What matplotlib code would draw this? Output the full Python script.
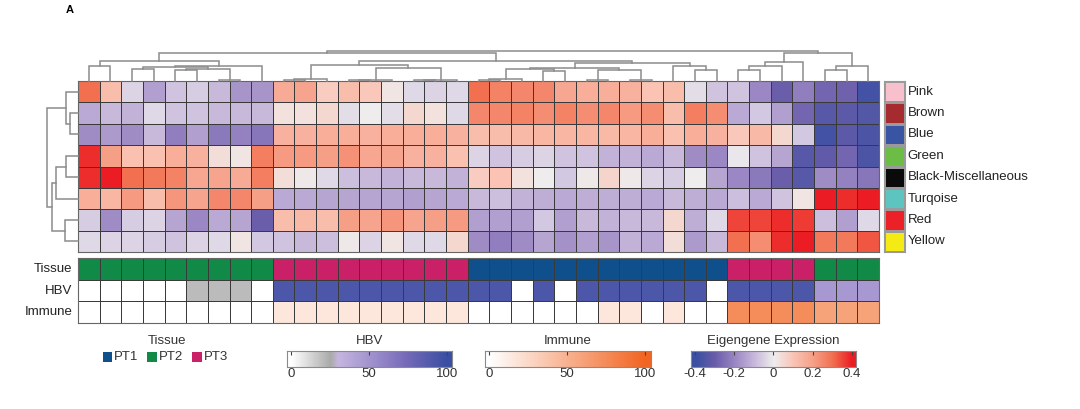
import numpy as np
import matplotlib
matplotlib.use("Agg")
import matplotlib.pyplot as plt
from matplotlib.colors import LinearSegmentedColormap, ListedColormap
from matplotlib.patches import Rectangle

plt.rcParams['font.family'] = ['Liberation Sans', 'DejaVu Sans']

# ---------------- data ----------------
modules = ["Pink", "Brown", "Blue", "Green", "Black-Miscellaneous", "Turqoise", "Red", "Yellow"]
module_colors = ["#F8BFCC", "#A52B2E", "#3A54A4", "#6CBD45", "#0A0A0A", "#5EC4C0", "#EC2027", "#F5EB14"]

eig_pink = [0.30, 0.12, -0.05, -0.15, -0.08, -0.06, -0.10, -0.17, -0.17,
            0.17, 0.19, 0.08, 0.12, 0.09, 0.02, -0.04, -0.05, -0.04,
            0.30, 0.26, 0.25, 0.25, 0.18, 0.16, 0.16, 0.15, 0.10, 0.12, -0.03, -0.08,
            -0.08, -0.20, -0.30, -0.22, -0.28, -0.29, -0.38]
eig_brown = [-0.13, -0.10, -0.11, -0.04, -0.08, -0.08, -0.10, -0.10, -0.10,
             0.03, 0.03, 0.05, -0.03, 0.00, -0.03, 0.05, 0.03, -0.04,
             0.25, 0.25, 0.26, 0.24, 0.26, 0.24, 0.25, 0.21, 0.24, 0.12, 0.27, 0.24,
             -0.13, -0.07, -0.15, -0.28, -0.34, -0.33, -0.35]
eig_blue = [-0.19, -0.16, -0.19, -0.10, -0.22, -0.15, -0.23, -0.21, -0.24,
            0.15, 0.15, 0.16, 0.16, 0.15, 0.16, 0.16, 0.16, 0.15,
            0.12, 0.12, 0.13, 0.14, 0.14, 0.14, 0.13, 0.14, 0.16, 0.11, 0.16, 0.15,
            0.09, 0.13, 0.05, -0.07, -0.38, -0.33, -0.36]
eig_green = [0.38, 0.20, 0.11, 0.11, 0.16, 0.15, 0.04, 0.02, 0.27,
             0.21, 0.21, 0.20, 0.23, 0.18, 0.19, 0.15, 0.15, 0.11,
             -0.05, -0.08, -0.06, -0.05, -0.08, -0.08, -0.11, -0.11, -0.13, -0.10, -0.19, -0.20,
             -0.01, -0.08, -0.14, -0.34, -0.32, -0.28, -0.36]
eig_black = [0.38, 0.40, 0.30, 0.28, 0.26, 0.18, 0.19, 0.17, 0.27,
             0.04, 0.01, -0.04, -0.09, -0.10, -0.11, -0.10, -0.10, -0.11,
             0.08, 0.10, 0.03, 0.00, -0.07, 0.01, 0.06, 0.01, -0.05, -0.06, 0.00, -0.14,
             -0.20, -0.23, -0.30, -0.34, -0.19, -0.21, -0.24]
eig_turq = [0.16, 0.14, 0.21, 0.12, 0.22, 0.19, 0.25, 0.25, 0.20,
            -0.13, -0.13, -0.14, -0.14, -0.14, -0.14, -0.15, -0.14, -0.13,
            -0.10, -0.09, -0.11, -0.12, -0.13, -0.12, -0.12, -0.12, -0.13, -0.10, -0.12, -0.13,
            -0.09, -0.13, -0.08, 0.02, 0.42, 0.38, 0.42]
eig_red = [-0.06, -0.19, -0.06, -0.05, -0.14, -0.20, -0.13, -0.14, -0.30,
           0.12, 0.13, 0.12, 0.20, 0.19, 0.22, 0.19, 0.20, 0.21,
           -0.15, -0.15, -0.15, -0.07, -0.15, -0.10, -0.11, -0.10, -0.10, 0.05, -0.12, -0.04,
           0.35, 0.35, 0.38, 0.36, -0.09, -0.15, -0.04]
eig_yellow = [-0.04, -0.05, -0.05, -0.06, -0.08, -0.05, -0.04, 0.02, -0.07,
              -0.08, -0.10, -0.09, 0.01, -0.05, 0.02, -0.04, -0.04, 0.05,
              -0.19, -0.22, -0.19, -0.14, -0.18, -0.15, -0.17, -0.11, -0.13, 0.04, -0.16, -0.10,
              0.30, 0.24, 0.38, 0.42, 0.28, 0.28, 0.33]

tissue_names = ["PT1", "PT2", "PT3"]
tissue_colors = ["#0E4F8C", "#128A47", "#C92068"]
tissue = ["PT2", "PT2", "PT2", "PT2", "PT2", "PT2", "PT2", "PT2", "PT2",
          "PT3", "PT3", "PT3", "PT3", "PT3", "PT3", "PT3", "PT3", "PT3",
          "PT1", "PT1", "PT1", "PT1", "PT1", "PT1", "PT1", "PT1", "PT1", "PT1", "PT1", "PT1",
          "PT3", "PT3", "PT3", "PT3", "PT2", "PT2", "PT2"]
hbv = [0, 0, 0, 0, 0, 20, 20, 20, 0,
       92, 92, 92, 92, 92, 92, 92, 92, 92,
       92, 92, 0, 92, 0, 92, 92, 92, 92, 92, 92, 0,
       92, 92, 92, 92, 48, 48, 48]
immune = [0, 0, 0, 0, 0, 0, 0, 0, 0,
          16, 16, 16, 16, 16, 16, 16, 16, 16,
          0, 0, 0, 0, 0, 0, 16, 16, 0, 16, 0, 0,
          74, 74, 74, 74, 60, 60, 60]
annot_labels = ["Tissue", "HBV", "Immune"]

# dendrograms as nested (left, right, merge height) tuples; leaves are indices
col_L = ((0, 1, 15.0), ((((2, 3, 12.5), ((4, 5, 11.5), (6, 7, 1.0), 12.0), 14.0)), 8, 15.2), 20.3)
col_M1 = ((((9, 10, 1.0), 11, 1.8)), (((12, 13, 0.8), 14, 1.5), ((15, 16, 0.8), 17, 1.5), 12.7), 16.0)
col_M2 = (((((18, 19, 1.2), 20, 1.8), (21, 22, 10.5), 12.5), ((23, 24, 1.0), (25, 26, 1.5), 11.3), 13.5),
          (27, (28, 29, 11.3), 14.7), 17.7)
col_R = (((((30, 31, 11.3), 32, 14.7)), 33, 19.0), ((34, 35, 11.3), 36, 14.7), 28.3)
col_tree = (((col_L, (col_M1, col_M2, 20.3), 28.3)), col_R, 30.3)
row_tree = ((0, (1, 2, 8.0), 12.0), (((3, 4, 12.0), 5, 22.0), (6, 7, 13.0), 26.3), 30.7)

# ---------------- colormaps ----------------
eig_cmap = LinearSegmentedColormap.from_list("eig", [
    (0.0, "#3A50A2"), (0.125, "#6A5DAA"), (0.25, "#9A87C3"), (0.375, "#C8B8DB"),
    (0.5, "#EEEDEE"), (0.625, "#FAC4B5"), (0.75, "#F6A088"), (0.875, "#F27050"), (1.0, "#EC1C24")])
hbv_cmap = LinearSegmentedColormap.from_list("hbv", [
    (0.0, "#FFFFFF"), (0.25, "#AAAAAA"), (0.30, "#C4B6E0"), (0.5, "#A394CF"),
    (0.75, "#7468B8"), (1.0, "#3A4FA3")])
imm_cmap = LinearSegmentedColormap.from_list("imm", ["#FFFFFF", "#F26522"])
tis_cmap = ListedColormap(tissue_colors)

# ---------------- figure ----------------
W, H = 1080, 409
fig = plt.figure(figsize=(W / 100, H / 100), dpi=100)


def px_axes(x0, y0, x1, y1):
    return fig.add_axes([x0 / W, 1 - y1 / H, (x1 - x0) / W, (y1 - y0) / H])


FS = 9.5
DCOL = "#8C8C8C"

# heatmap
eigengene = np.array([eig_pink, eig_brown, eig_blue, eig_green, eig_black, eig_turq, eig_red, eig_yellow])
ncol = eigengene.shape[1]
nrow = eigengene.shape[0]
ax = px_axes(78, 81, 879, 252)
ax.pcolormesh(eigengene, cmap=eig_cmap, vmin=-0.4, vmax=0.4, edgecolors="#3A3A3A", linewidth=0.7)
ax.set_xlim(0, ncol)
ax.set_ylim(nrow, 0)
ax.set_xticks([])
ax.set_yticks([])
for s in ax.spines.values():
    s.set_color("#666666")
    s.set_linewidth(0.8)


def draw_tree(a, node, orient):
    if isinstance(node, int):
        return node + 0.5, 0.0
    left, right, h = node
    cl, hl = draw_tree(a, left, orient)
    cr, hr = draw_tree(a, right, orient)
    xs = [cl, cl, cr, cr]
    ys = [hl, h, h, hr]
    if orient == "top":
        a.plot(xs, ys, color=DCOL, lw=1.1, clip_on=False, solid_joinstyle="miter")
    else:
        a.plot(ys, xs, color=DCOL, lw=1.1, clip_on=False, solid_joinstyle="miter")
    return (cl + cr) / 2, h


# column dendrogram
axd = px_axes(78, 50.7, 879, 81)
draw_tree(axd, col_tree, "top")
axd.set_xlim(0, ncol)
axd.set_ylim(0, col_tree[2])
axd.axis("off")

# row dendrogram
axr = px_axes(47.3, 81, 78, 252)
draw_tree(axr, row_tree, "left")
axr.set_xlim(row_tree[2], 0)
axr.set_ylim(nrow, 0)
axr.axis("off")

# module color legend
axm = px_axes(884, 81, 905, 252)
axm.pcolormesh(np.arange(nrow).reshape(-1, 1), cmap=ListedColormap(module_colors),
               vmin=-0.5, vmax=nrow - 0.5, edgecolors="#9A9A9A", linewidth=0.8)
axm.set_xlim(0, 1)
axm.set_ylim(nrow, 0)
axm.set_xticks([])
axm.set_yticks([])
for s in axm.spines.values():
    s.set_color("#9A9A9A")
for i, m in enumerate(modules):
    axm.text(1.12, i + 0.5, m, ha="left", va="center", fontsize=FS, color="#222222", clip_on=False)

# annotation rows
axa = px_axes(78, 258, 879, 323)
xe = np.arange(ncol + 1)
tis_idx = [tissue_names.index(t) for t in tissue]
axa.pcolormesh(xe, [0, 1], [tis_idx], cmap=tis_cmap, vmin=-0.5, vmax=2.5, edgecolors="#3A3A3A", linewidth=0.7)
axa.pcolormesh(xe, [1, 2], [hbv], cmap=hbv_cmap, vmin=0, vmax=100, edgecolors="#3A3A3A", linewidth=0.7)
axa.pcolormesh(xe, [2, 3], [immune], cmap=imm_cmap, vmin=0, vmax=100, edgecolors="#3A3A3A", linewidth=0.7)
axa.set_xlim(0, ncol)
axa.set_ylim(3, 0)
axa.set_xticks([])
axa.set_yticks([])
for s in axa.spines.values():
    s.set_color("#666666")
    s.set_linewidth(0.8)
for i, lab in enumerate(annot_labels):
    axa.text(-0.25, i + 0.5, lab, ha="right", va="center", fontsize=FS, color="#222222", clip_on=False)


# colorbars
def colorbar(x0, x1, lo, hi, vmin, vmax, cmap, ticks, ticklabels, title):
    a = px_axes(x0, 351, x1, 367)
    grad = np.linspace(lo, hi, 300)[None, :]
    a.imshow(grad, aspect="auto", cmap=cmap, vmin=vmin, vmax=vmax, extent=(lo, hi, 0, 1))
    a.set_xlim(lo, hi)
    a.set_ylim(0, 1)
    a.set_yticks([])
    a.set_xticks(ticks)
    a.set_xticklabels(ticklabels, fontsize=FS, color="#333333")
    a.tick_params(axis="x", top=True, bottom=False, labeltop=False, labelbottom=True,
                  direction="in", length=3, width=0.8, color="#444444", pad=1)
    for s in a.spines.values():
        s.set_color("#8A8A8A")
        s.set_linewidth(0.8)
    fig.text((x0 + x1) / 2 / W, 1 - 341 / H, title, ha="center", va="center", fontsize=FS, color="#333333")


colorbar(286.7, 451.7, -2.8, 103.2, 0, 100, hbv_cmap, [0, 50, 100], ["0", "50", "100"], "HBV")
colorbar(485, 650.7, -2.8, 103.7, 0, 100, imm_cmap, [0, 50, 100], ["0", "50", "100"], "Immune")
colorbar(690.7, 856, -0.422, 0.422, -0.4, 0.4, eig_cmap, [-0.4, -0.2, 0, 0.2, 0.4],
         ["-0.4", "-0.2", "0", "0.2", "0.4"], "Eigengene Expression")

# tissue legend
axl = px_axes(95, 330, 250, 370)
axl.set_xlim(95, 250)
axl.set_ylim(370, 330)
axl.axis("off")
axl.text(167, 341, "Tissue", ha="center", va="center", fontsize=FS, color="#333333")
for k, (nm, c) in enumerate(zip(tissue_names, tissue_colors)):
    x = 102.7 + k * 44.7
    axl.add_patch(Rectangle((x, 352), 9.5, 9.5, facecolor=c, edgecolor="none"))
    axl.text(x + 11.5, 357.2, nm, ha="left", va="center", fontsize=FS, color="#333333")

fig.text(66 / W, 1 - 10 / H, "A", ha="left", va="center", fontsize=8, fontweight="bold")

fig.savefig("out.png", dpi=100)
